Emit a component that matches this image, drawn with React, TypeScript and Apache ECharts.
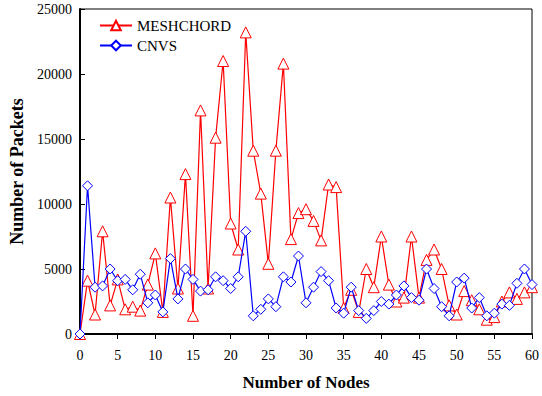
import React, { useEffect, useRef } from "react";
import * as echarts from "echarts";

const nodes: number[] = Array.from({ length: 61 }, (_, i) => i);
const meshchord: number[] = [
  0, 4100, 1500, 7900, 2200, 4200, 1900, 2100, 1800, 3800,
  6200, 1700, 10500, 3500, 12300, 1400, 17200, 3500, 15100, 21000,
  8500, 6500, 23200, 14100, 10800, 5400, 14100, 20800, 7300, 9300,
  9600, 8700, 7200, 11500, 11300, 2000, 3400, 1700, 5000, 3600,
  7500, 3800, 2500, 2800, 7500, 2800, 5700, 6500, 5000, 2200,
  1500, 3300, 2600, 1900, 1100, 1300, 2500, 3200, 2700, 3200, 3600,
];
const cnvs: number[] = [
  0, 11400, 3600, 3700, 5000, 4100, 4200, 3400, 4600, 2400,
  3000, 1700, 5800, 2700, 5000, 4200, 3300, 3400, 4400, 4100,
  3500, 4400, 7900, 1400, 1900, 2700, 2100, 4400, 4000, 6000,
  2400, 3600, 4800, 4100, 2000, 1600, 3600, 1800, 1200, 1800,
  2500, 2300, 3000, 3700, 2800, 2600, 5000, 3500, 2100, 1400,
  4000, 4300, 2000, 2800, 1400, 1600, 2300, 2200, 3900, 5000, 3800,
];

const serif = "Liberation Serif";

export default function App() {
  const ref = useRef<HTMLDivElement>(null);
  useEffect(() => {
    if (!ref.current) return;
    const chart = echarts.init(ref.current, undefined, { renderer: "svg" });
    chart.setOption({
      animation: false,
      backgroundColor: "#fff",
      textStyle: { fontFamily: serif },
      grid: {
        left: 80, right: 6, top: 9, bottom: 62,
        show: true, borderColor: "#000", borderWidth: 1,
      },
      legend: {
        orient: "vertical",
        left: 94,
        top: 13,
        itemWidth: 32,
        itemHeight: 12,
        itemGap: 5,
        textStyle: { fontFamily: serif, fontSize: 15, color: "#000" },
        data: ["MESHCHORD", "CNVS"],
      },
      xAxis: {
        type: "value",
        min: 0, max: 60, interval: 5,
        name: "Number of Nodes",
        nameLocation: "middle",
        nameGap: 40,
        nameTextStyle: { fontFamily: serif, fontSize: 17, fontWeight: "bold", color: "#000" },
        axisLine: { show: true, onZero: false, lineStyle: { color: "#000", width: 2 } },
        axisTick: { show: true, inside: false, length: 5, lineStyle: { color: "#000" } },
        axisLabel: { fontFamily: serif, fontSize: 14, color: "#000", margin: 14, formatter: (v: number) => String(v) },
        splitLine: { show: false },
      },
      yAxis: {
        type: "value",
        min: 0, max: 25000, interval: 5000,
        name: "Number of Packets",
        nameLocation: "middle",
        nameGap: 54,
        nameTextStyle: { fontFamily: serif, fontSize: 18, fontWeight: "bold", color: "#000" },
        axisLine: { show: true, lineStyle: { color: "#000", width: 2 } },
        axisTick: { show: true, inside: true, length: 5, lineStyle: { color: "#000" } },
        axisLabel: { fontFamily: serif, fontSize: 14, color: "#000", margin: 8, formatter: (v: number) => String(v) },
        splitLine: { show: false },
      },
      series: [
        {
          name: "MESHCHORD",
          type: "line",
          data: nodes.map((n, i) => [n, meshchord[i]]),
          symbol: "triangle",
          symbolSize: 11,
          itemStyle: { color: "#fff", borderColor: "#ff0000", borderWidth: 1 },
          lineStyle: { color: "#ff0000", width: 1.2 },
          z: 2,
        },
        {
          name: "CNVS",
          type: "line",
          data: nodes.map((n, i) => [n, cnvs[i]]),
          symbol: "diamond",
          symbolSize: 10,
          itemStyle: { color: "#fff", borderColor: "#0000ff", borderWidth: 1 },
          lineStyle: { color: "#0000ff", width: 1.2 },
          z: 3,
        },
      ],
    });
    return () => chart.dispose();
  }, []);
  return <div ref={ref} style={{ width: 542, height: 396, position: "absolute", left: 0, top: 0 }} />;
}
